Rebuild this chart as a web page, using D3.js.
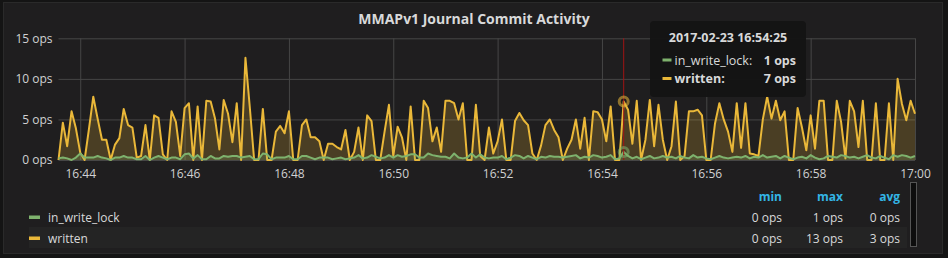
<!DOCTYPE html>
<html><head><meta charset="utf-8">
<script src="https://cdn.jsdelivr.net/npm/d3@7"></script>
<style>
html,body{margin:0;padding:0;background:#141414;}
svg{display:block;font-family:"Open Sans",sans-serif;}
</style></head><body>
<svg id="c" width="948" height="258"></svg>
<script>
const title = "MMAPv1 Journal Commit Activity";
const startTime = "2017-02-23T16:43:35";
const endTime = "2017-02-23T17:00:00";
const stepSeconds = 5;
const seriesNames = ["in_write_lock", "written"];
const seriesColors = ["#7eb26d", "#eab839"];
const inWriteLock = [
 0.2,0.3,0.2,0,0.3,0.8,0.3,0.3,0.3,0.5,0.3,0.2,0,0.3,0.3,0.5,0.3,0.3,0.1,0.1,0.5,0,0.3,0.5,0.3,0.1,0.3,0.3,0.1,0.7,0.8,0.2,
 0.6,0.1,0.1,0.5,0.2,0.2,0.5,0.4,0.5,0.5,0.3,0.4,0.5,0.1,0.1,0.8,0.7,0.1,0.3,0.3,0.3,0.5,0.1,0.1,0.5,0.5,0.3,0.1,0.3,0.3,0.3,0.1,0.2,0.3,0.1,
 0.2,0.3,0.6,0.2,0.3,0.6,0.4,0.2,0.3,0.6,0.3,0.6,0.4,0.5,0.7,0.7,0.3,0.3,0.8,0.6,0.5,0.4,0.4,0.2,0.8,0.3,0.2,0.3,0.8,0.3,0.7,0.3,0.2,
 0.3,0.3,0.5,0.1,0.3,0.6,0.5,0.2,0.5,0.3,0.1,0.4,0.3,0.5,0.4,0.4,0.3,0.4,0.5,0.6,0.2,0.4,0.3,0.6,0.5,0.3,0.4,0.6,0.1,0.2,1.0,
 0.5,0.2,0.4,0.1,0.3,0.5,0.2,0.3,0.5,0.3,0.4,0.2,0.5,0.3,0.2,0.6,0.3,0.4,0.2,0.1,0.3,0.5,0.3,0.2,0.3,0.4,0.3,0.5,0.2,0.4,0.3,0.6,0.3,0.4,0.5,
 0.2,0.5,0.3,0.1,0.3,0.4,0.2,0.6,0.3,0.1,0.2,0.5,0.4,0.3,0.6,0.5,0.3,0.4,0.2,0.4,0.6,0.3,0.2,0.5,0.3,0.1,0.6,0.4,0.6,0.5,0.3,0.5
];
const written = [
 0,4.6,1.7,6.0,3.9,0.9,0,3.8,7.8,5.1,2.5,2.5,0,1.9,2.7,6.3,4.3,4.0,0.3,0.5,4.3,0,5.5,5.2,0.7,0,6.0,4.7,0.5,6.4,7.0,0,
 6.6,0,7.3,7.2,5.1,1.3,7.4,5.7,2.2,7.0,0,12.6,6.5,0,0,6.3,0,0,3.5,4.2,3.3,6.0,0,0,4.3,5.0,2.8,2.8,2.3,0,2.0,2.0,1.6,1.3,3.7,
 0,1.0,4.0,0,5.5,4.8,0,0,3.5,6.8,0.5,4.1,2.8,0,6.6,0,0,7.3,6.4,2.3,4.0,1.0,7.3,7.3,7.0,5.0,7.0,0,0,6.8,0.5,0,4.0,
 0.8,2.3,5.0,0,0,4.8,5.8,4.9,4.3,0.8,0,1.8,4.3,5.0,3.7,2.8,0,1.4,2.5,5.0,1.4,5.2,0,6.0,5.9,5.0,2.3,6.6,0,0,7.2,
 6.2,2.0,7.3,0,2.5,7.4,1.7,6.8,2.5,0,1.7,7.2,0,0.5,6.0,6.0,6.2,5.5,0,0,4.5,7.0,5.0,3.5,1.0,7.0,1.5,7.0,0.8,0.7,0.5,5.0,7.8,5.1,7.3,
 4.9,6.0,0,0,6.4,4.0,1.2,5.5,1.4,7.3,7.3,0,0,7.3,4.7,0.2,7.3,6.0,1.6,7.3,0,0,7.0,0,0,7.0,0,10.0,6.9,4.9,7.3,5.7
];
const yTicks = [0, 5, 10, 15];
const yUnit = " ops";
const xTickLabels = ["16:44","16:46","16:48","16:50","16:52","16:54","16:56","16:58","17:00"];
const legendHeaders = ["min", "max", "avg"];
const legendInWriteLock = ["0 ops", "1 ops", "0 ops"];
const legendWritten = ["0 ops", "13 ops", "3 ops"];
const hoverTime = "2017-02-23T16:54:25";
const tooltipTitle = "2017-02-23 16:54:25";
const tooltipValues = ["1 ops", "7 ops"];

const parse = d3.timeParse("%Y-%m-%dT%H:%M:%S");
const t0 = parse(startTime), t1 = parse(endTime);
const timeAt = i => new Date(t0.getTime() + i * stepSeconds * 1000);

const svg = d3.select("#c");
const L = 58.5, R = 915, T = 38.3, B = 160;
const x = d3.scaleTime().domain([t0, t1]).range([L, R]);
const y = d3.scaleLinear().domain([0, 15]).range([B, T]);

// panel
svg.append("rect").attr("x", 3.5).attr("y", 2.5).attr("width", 939).attr("height", 251)
  .attr("fill", "#1f1e1f").attr("stroke", "#2a2a2a");

// title
svg.append("text").attr("x", 474).attr("y", 24).attr("text-anchor", "middle")
  .attr("font-size", 14).attr("font-weight", "bold").attr("fill", "#d8d9da").text(title);

const xTickVals = xTickLabels.map(l => parse("2017-02-23T" + l + ":00"));

// grid
const gx = svg.append("g").attr("transform", `translate(0,${B})`)
  .call(d3.axisBottom(x).tickValues(xTickVals).tickSize(-(B - T)).tickFormat(""));
gx.select(".domain").remove();
gx.selectAll("line").attr("stroke", "#464646").attr("stroke-width", 1);
const gy = svg.append("g").attr("transform", `translate(${L},0)`)
  .call(d3.axisLeft(y).tickValues(yTicks).tickSize(-(R - L)).tickFormat(""));
gy.select(".domain").remove();
gy.selectAll("line").attr("stroke", "#464646").attr("stroke-width", 1);

// axes labels
const ax = svg.append("g").attr("transform", `translate(0,${B})`)
  .call(d3.axisBottom(x).tickValues(xTickVals).tickSize(0).tickPadding(9).tickFormat(d3.timeFormat("%H:%M")));
ax.select(".domain").remove();
ax.selectAll("text").attr("font-size", 12).attr("fill", "#d0d1d2").attr("font-family", "Open Sans");
const ay = svg.append("g").attr("transform", `translate(${L},0)`)
  .call(d3.axisLeft(y).tickValues(yTicks).tickSize(0).tickPadding(6).tickFormat(d => d + yUnit));
ay.select(".domain").remove();
ay.selectAll("text").attr("font-size", 12).attr("fill", "#d0d1d2").attr("font-family", "Open Sans");

// series
const area = d3.area().x((d, i) => x(timeAt(i))).y0(y(0)).y1(d => y(d));
const line = d3.line().x((d, i) => x(timeAt(i))).y(d => y(d));
const seriesData = [inWriteLock, written];
[1, 0].forEach(k => {
  svg.append("path").datum(seriesData[k]).attr("d", area)
    .attr("fill", seriesColors[k]).attr("fill-opacity", 0.21);
  svg.append("path").datum(seriesData[k]).attr("d", line)
    .attr("fill", "none").attr("stroke", seriesColors[k]).attr("stroke-width", 2)
    .attr("stroke-linejoin", "round");
});

// crosshair + hover
const ht = parse(hoverTime);
const hi = Math.round((ht - t0) / (stepSeconds * 1000));
svg.append("line").attr("x1", x(ht)).attr("x2", x(ht)).attr("y1", T).attr("y2", B)
  .attr("stroke", "#a01414").attr("stroke-width", 1);
[0, 1].forEach(k => {
  svg.append("circle").attr("cx", x(timeAt(hi))).attr("cy", y(seriesData[k][hi])).attr("r", 4.5)
    .attr("fill", "none").attr("stroke", seriesColors[k]).attr("stroke-opacity", 0.55).attr("stroke-width", 3);
});

// tooltip
const tt = svg.append("g");
tt.append("rect").attr("x", 650).attr("y", 21).attr("width", 156).attr("height", 76).attr("rx", 4)
  .attr("fill", "#141414").attr("fill-opacity", 0.96);
tt.append("text").attr("x", 728).attr("y", 42).attr("text-anchor", "middle")
  .attr("font-size", 12.5).attr("font-weight", "bold").attr("fill", "#d8d9da").text(tooltipTitle);
[0, 1].forEach(k => {
  const cy = 60 + k * 18.5;
  tt.append("rect").attr("x", 662.5).attr("y", cy - 1.5).attr("width", 9).attr("height", 3).attr("fill", seriesColors[k]);
  tt.append("text").attr("x", 674.5).attr("y", cy + 4.5).attr("font-size", 12.5)
    .attr("font-weight", k === 1 ? "bold" : "normal").attr("fill", "#d8d9da").text(seriesNames[k] + ":");
  tt.append("text").attr("x", 796).attr("y", cy + 4.5).attr("text-anchor", "end").attr("font-size", 12.5)
    .attr("font-weight", "bold").attr("fill", "#d8d9da").text(tooltipValues[k]);
});

// legend
const colX = [782, 843, 900];
const lg = svg.append("g");
lg.append("rect").attr("x", 29).attr("y", 227).attr("width", 878).attr("height", 21).attr("fill", "#242424");
legendHeaders.forEach((h, j) => {
  lg.append("text").attr("x", colX[j]).attr("y", 201).attr("text-anchor", "end")
    .attr("font-size", 12).attr("font-weight", "bold").attr("fill", "#33b5e5").text(h);
});
const legendRows = [legendInWriteLock, legendWritten];
[0, 1].forEach(k => {
  const cy = 217 + k * 21;
  lg.append("rect").attr("x", 29).attr("y", cy - 1.5).attr("width", 11).attr("height", 3.5).attr("fill", seriesColors[k]);
  lg.append("text").attr("x", 48).attr("y", cy + 4.5).attr("font-size", 12).attr("fill", "#d8d9da").text(seriesNames[k]);
  legendRows[k].forEach((v, j) => {
    lg.append("text").attr("x", colX[j]).attr("y", cy + 4.5).attr("text-anchor", "end")
      .attr("font-size", 12).attr("fill", "#d8d9da").text(v);
  });
});
// scrollbar
lg.append("rect").attr("x", 910.5).attr("y", 182.5).attr("width", 6).attr("height", 64)
  .attr("fill", "#0d0d0d").attr("stroke", "#555").attr("stroke-width", 1);
</script>
</body></html>
